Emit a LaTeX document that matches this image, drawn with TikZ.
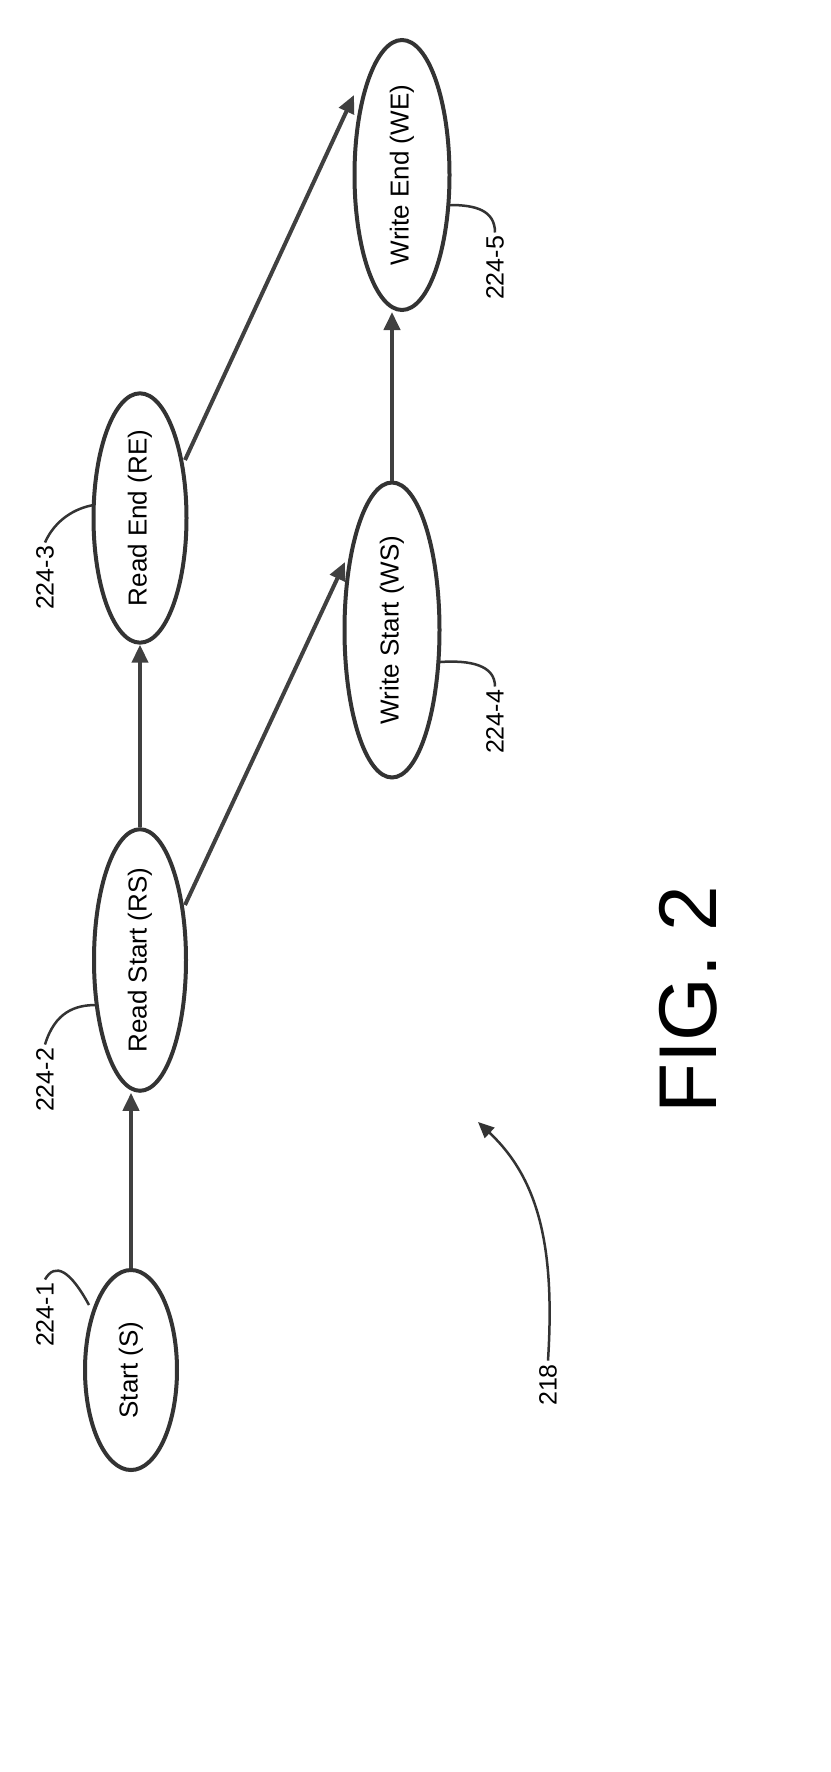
\documentclass[tikz,border=0pt]{standalone}
\usepackage{fontspec}
\setmainfont{Liberation Sans}
\usetikzlibrary{shapes.geometric,arrows.meta,calc}
\begin{document}
\begin{tikzpicture}[x=1pt,y=-1pt,
  st/.style={draw=black!80,line width=4pt,ellipse,rotate=90,inner sep=0pt,font=\fontsize{26}{28}\selectfont},
  ln/.style={draw=black!75,line width=4pt},
  ar/.style={ln,-{Triangle[length=18pt,width=16pt]}},
  lab/.style={rotate=90,font=\fontsize{25}{27}\selectfont},
  ld/.style={draw=black!80,line width=2.5pt}]
\useasboundingbox (0,0) rectangle (830,1772);
\node[st,minimum width=200pt,minimum height=92pt] (s) at (131,1370) {Start (S)};
\node[st,minimum width=260pt,minimum height=92pt] (rs) at (140,960) {Read Start (RS)};
\node[st,minimum width=245pt,minimum height=93pt] (re) at (140,518) {Read End (RE)};
\node[st,minimum width=295pt,minimum height=95pt] (ws) at (392,630) {Write Start (WS)};
\node[st,minimum width=270pt,minimum height=95pt] (we) at (402,175) {Write End (WE)};
\draw[ar] (s.east) -- (s.east|-rs.west);
\draw[ar] (rs.east) -- (rs.east|-re.west);
\draw[ar] (ws.east) -- (ws.east|-we.west);
\coordinate (a1) at ($(rs.center)+(45,-55)$);
\coordinate (a2) at ($(ws.center)+(-47,-68)$);
\draw[ar] (a1) -- (a2);
\coordinate (b1) at ($(re.center)+(45,-58)$);
\coordinate (b2) at ($(we.center)+(-48,-80)$);
\draw[ar] (b1) -- (b2);
% labels
\node[lab] (l1) at (45,1315) {224-1};
\draw[ld] (l1.east) .. controls (55,1262) and (70,1270) .. (89,1305);
\node[lab] (l2) at (45,1080) {224-2};
\draw[ld] (l2.east) .. controls (55,1012) and (75,1005) .. (96,1005);
\node[lab] (l3) at (45,578) {224-3};
\draw[ld] (l3.east) .. controls (55,520) and (75,508) .. (94,505);
\node[lab] (l4) at (495,722) {224-4};
\draw[ld] (l4.east) .. controls (495,665) and (470,660) .. (440,662);
\node[lab] (l5) at (495,268) {224-5};
\draw[ld] (l5.east) .. controls (495,210) and (475,205) .. (450,205);
\node[lab] (l6) at (548,1385) {218};
\draw[ld,-{Triangle[length=16pt,width=14pt]}] (l6.east) .. controls (555,1250) and (540,1180) .. (478,1122);
\node[rotate=90,font=\fontsize{82}{84}\selectfont] (fig) at (688,1000) {FIG. 2};
\end{tikzpicture}
\end{document}
